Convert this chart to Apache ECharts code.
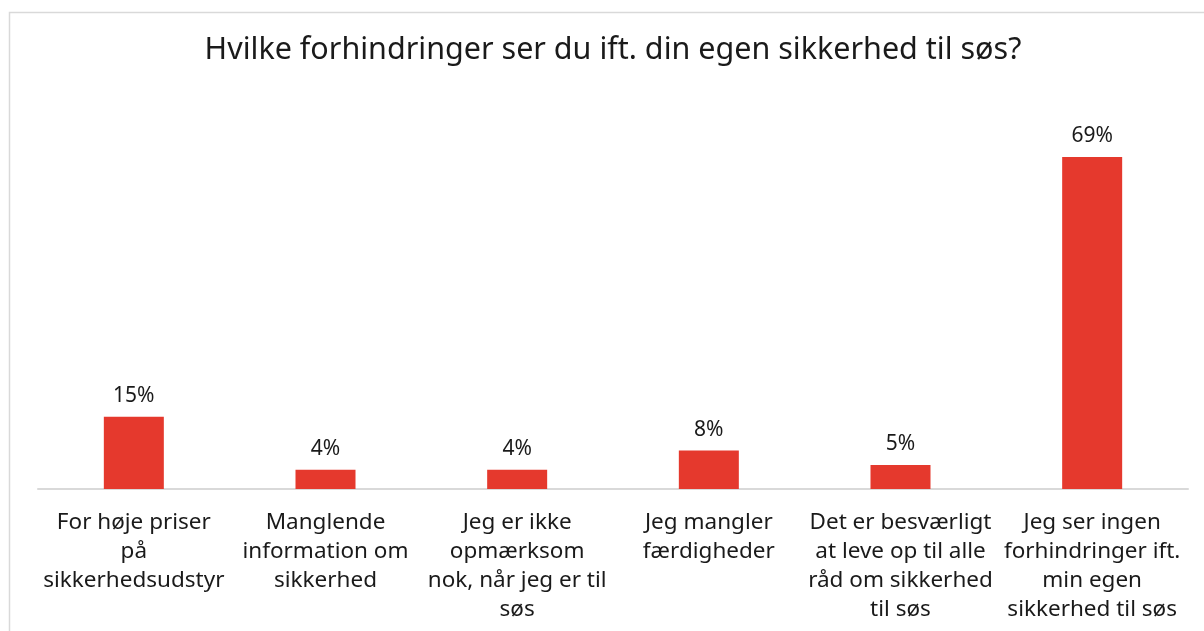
<!DOCTYPE html>
<html>
<head>
<meta charset="utf-8">
<script src="https://cdn.jsdelivr.net/npm/echarts@6/dist/echarts.min.js"></script>
<style>
  html, body { margin: 0; padding: 0; background: #fff; }
  #chart { width: 1204px; height: 631px; }
</style>
</head>
<body>
<div id="chart"></div>
<script>
var titleText = 'Hvilke forhindringer ser du ift. din egen sikkerhed til søs?';
var categories = [
    'For høje priser\npå\nsikkerhedsudstyr',
    'Manglende\ninformation om\nsikkerhed',
    'Jeg er ikke\nopmærksom\nnok, når jeg er til\nsøs',
    'Jeg mangler\nfærdigheder',
    'Det er besværligt\nat leve op til alle\nråd om sikkerhed\ntil søs',
    'Jeg ser ingen\nforhindringer ift.\nmin egen\nsikkerhed til søs'
];
var values = [15, 4, 4, 8, 5, 69];

var chart = echarts.init(document.getElementById('chart'));
var fontName = 'Noto Sans';
var option = {
    backgroundColor: '#fff',
    animation: false,
    title: {
        text: titleText,
        left: 608,
        textAlign: 'center',
        top: 30,
        textStyle: {
            fontFamily: fontName,
            fontSize: 30.5,
            fontWeight: 'normal',
            color: '#1a1a1a'
        }
    },
    graphic: [
        {
            type: 'rect',
            shape: { x: 9.5, y: 12.5, width: 1220, height: 640 },
            style: { fill: 'none', stroke: '#d9d9d9', lineWidth: 1.5 },
            silent: true
        }
    ],
    grid: {
        left: 38,
        right: 16,
        top: 104,
        bottom: 142
    },
    xAxis: {
        type: 'category',
        data: categories,
        axisLine: { lineStyle: { color: '#d9d9d9', width: 2 } },
        axisTick: { show: false },
        axisLabel: {
            interval: 0,
            margin: 19,
            fontFamily: fontName,
            fontSize: 22.5,
            lineHeight: 29,
            color: '#1a1a1a',
            align: 'center'
        }
    },
    yAxis: {
        type: 'value',
        min: 0,
        max: 80,
        show: false,
        splitLine: { show: false }
    },
    series: [
        {
            type: 'bar',
            data: values,
            barWidth: 60,
            itemStyle: { color: '#e5392d' },
            label: {
                show: true,
                position: 'top',
                distance: 10,
                formatter: '{c}%',
                fontFamily: fontName,
                fontSize: 21,
                color: '#1a1a1a'
            }
        }
    ]
};
chart.setOption(option);
</script>
</body>
</html>
